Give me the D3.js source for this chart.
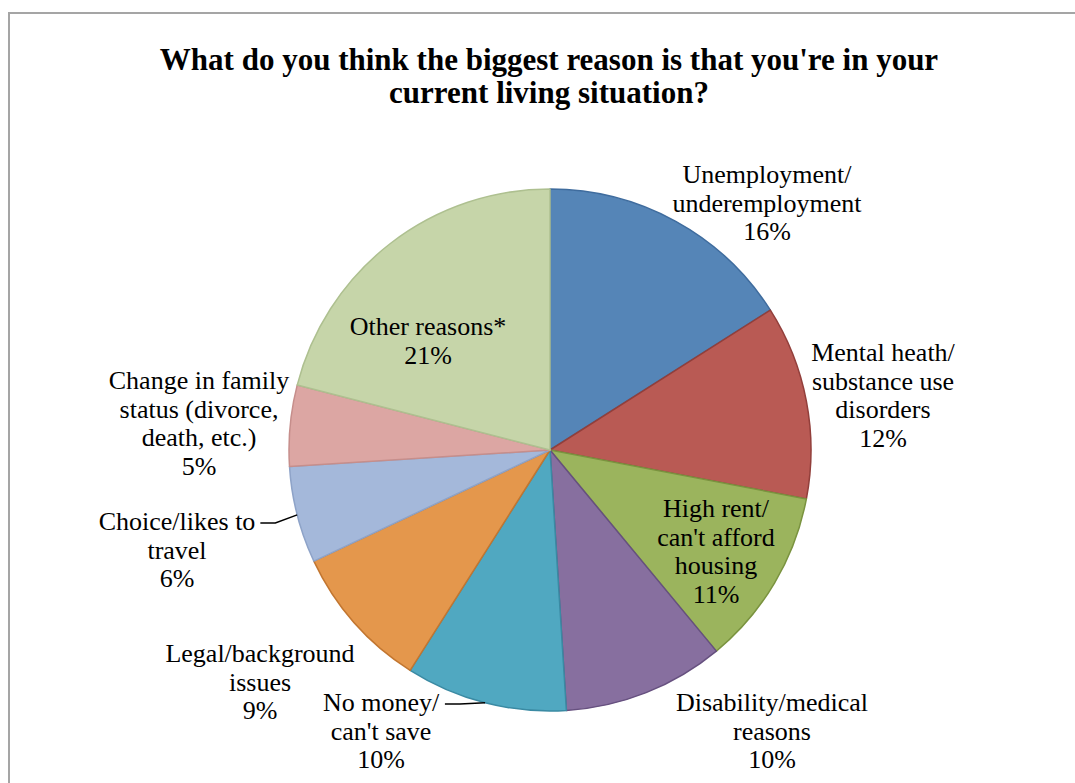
<!DOCTYPE html>
<html>
<head>
<meta charset="utf-8">
<script src="https://cdn.jsdelivr.net/npm/d3@7"></script>
<style>
  html, body { margin: 0; padding: 0; background: #ffffff; }
  svg { display: block; }
</style>
</head>
<body>
<svg id="chart" width="1075" height="783"></svg>
<script>
// Survey responses: biggest reason for current living situation (percent)
const categories = [
  "Unemployment/ underemployment",
  "Mental heath/ substance use disorders",
  "High rent/ can't afford housing",
  "Disability/medical reasons",
  "No money/ can't save",
  "Legal/background issues",
  "Choice/likes to travel",
  "Change in family status (divorce, death, etc.)",
  "Other reasons*"
];
const percentages = [16, 12, 11, 10, 10, 9, 6, 5, 21];

// Label text broken into lines as displayed
const labelLines = [
  ["Unemployment/", "underemployment"],
  ["Mental heath/", "substance use", "disorders"],
  ["High rent/", "can't afford", "housing"],
  ["Disability/medical", "reasons"],
  ["No money/", "can't save"],
  ["Legal/background", "issues"],
  ["Choice/likes to", "travel"],
  ["Change in family", "status (divorce,", "death, etc.)"],
  ["Other reasons*"]
];

const titleLines = [
  "What do you think the biggest reason is that you're in your",
  "current living situation?"
];

// Styling
const fills   = ["#5585b7", "#b95a54", "#9bb45d", "#876f9f", "#50a8c1", "#e4974c", "#a4b8da", "#dca6a3", "#c6d5a9"];
const strokes = ["#3f6c9e", "#923f3b", "#7a933f", "#66507f", "#3a8aa3", "#c27630", "#8ea3c8", "#c68e8b", "#aec090"];

// Label anchor (centre x, first baseline) relative to the pie centre, and leader flags
const labelLayout = [
  { dx: 217,  dy: -267, leader: null },
  { dx: 333,  dy: -89,  leader: null },
  { dx: 166,  dy: 67,   leader: null },
  { dx: 222,  dy: 261,  leader: null },
  { dx: -169, dy: 261,  leader: { side: "right" } },
  { dx: -290, dy: 212,  leader: null },
  { dx: -373, dy: 80,   leader: { side: "right" } },
  { dx: -351, dy: -61,  leader: null },
  { dx: -122, dy: -115, leader: null }
];

const W = 1075, H = 783;
const cx = 550, cy = 450, R = 261;
const lineH = 28.5;
const labelFont = "'Liberation Serif', 'Times New Roman', serif";

const svg = d3.select("#chart");

// Outer chart frame (runs past the right and bottom edges)
svg.append("rect")
  .attr("x", 9).attr("y", 13)
  .attr("width", W + 20).attr("height", H + 20)
  .attr("fill", "none")
  .attr("stroke", "#a5a5a5")
  .attr("stroke-width", 2);

// Title
svg.append("text")
  .attr("x", 549).attr("y", 70)
  .attr("text-anchor", "middle")
  .attr("font-family", labelFont)
  .attr("font-weight", "bold")
  .attr("font-size", 31)
  .selectAll("tspan")
  .data(titleLines)
  .join("tspan")
  .attr("x", 549)
  .attr("dy", (d, i) => i === 0 ? 0 : 33)
  .text(d => d);

const data = categories.map((c, i) => ({ name: c, value: percentages[i], i }));

const pie = d3.pie().value(d => d.value).sort(null).startAngle(0).endAngle(2 * Math.PI);
const arcs = pie(data);
const arc = d3.arc().innerRadius(0).outerRadius(R);

const g = svg.append("g").attr("transform", `translate(${cx},${cy})`);

g.selectAll("path.slice")
  .data(arcs)
  .join("path")
  .attr("class", "slice")
  .attr("d", arc)
  .attr("fill", d => fills[d.data.i])
  .attr("stroke", d => strokes[d.data.i])
  .attr("stroke-width", 1.5)
  .attr("stroke-linejoin", "round");

// Labels
const labels = g.selectAll("text.lbl")
  .data(arcs)
  .join("text")
  .attr("class", "lbl")
  .attr("text-anchor", "middle")
  .attr("font-family", labelFont)
  .attr("font-size", 26)
  .attr("fill", "#000");

labels.each(function(d) {
  const L = labelLayout[d.data.i];
  const lines = labelLines[d.data.i].concat([d.data.value + "%"]);
  d3.select(this).selectAll("tspan")
    .data(lines)
    .join("tspan")
    .attr("x", L.dx)
    .attr("y", (t, k) => L.dy + k * lineH)
    .text(t => t);
});

// Leader lines from label to the slice edge
arcs.forEach(d => {
  const L = labelLayout[d.data.i];
  if (!L.leader) return;
  const mid = (d.startAngle + d.endAngle) / 2;
  const ex = R * Math.sin(mid), ey = -R * Math.cos(mid);
  const node = labels.filter(a => a.data.i === d.data.i).node();
  const bb = node.querySelector("tspan").getBBox();
  const sx = bb.x + bb.width + 5;
  const sy = bb.y + bb.height * 0.55;
  g.append("path")
    .attr("d", d3.line()([[sx, sy], [sx + 15, sy], [ex, ey]]))
    .attr("fill", "none")
    .attr("stroke", "#000")
    .attr("stroke-width", 1.5);
});
</script>
</body>
</html>
